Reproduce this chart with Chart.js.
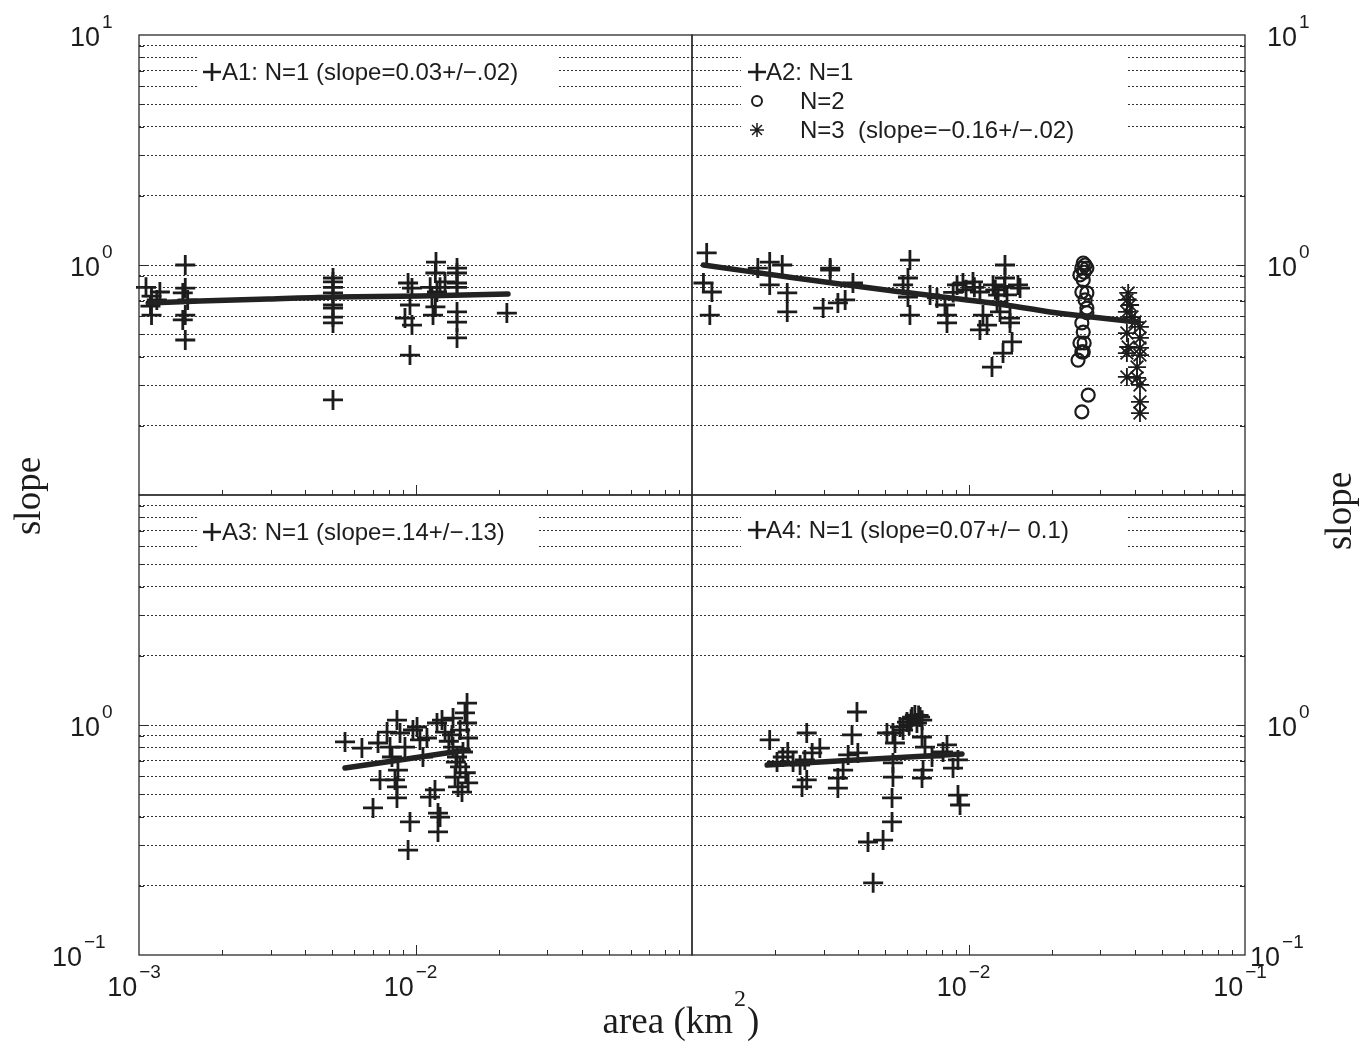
<!DOCTYPE html>
<html><head><meta charset="utf-8">
<script src="https://cdn.jsdelivr.net/npm/chart.js@4.4.1/dist/chart.umd.min.js"></script>
<style>
html,body{margin:0;padding:0;background:#fff;width:1359px;height:1043px;overflow:hidden}
canvas{position:absolute;left:0;top:0}
</style></head><body>
<canvas id="c1" width="1359" height="1043"></canvas>
<canvas id="c2" width="1359" height="1043"></canvas>
<canvas id="c3" width="1359" height="1043"></canvas>
<canvas id="c4" width="1359" height="1043"></canvas>
<script>
// ---------------- DATA ----------------
const A1_area  = [0.00106,0.00111,0.00116,0.0011,0.00111,0.00119, 0.00147,0.00147,0.00144,0.0015,0.00147,0.00144,0.00147, 0.00503,0.00503,0.00503,0.00503,0.00503,0.00503,0.00503,0.00503,0.00503, 0.0094,0.00971,0.00955,0.00916,0.00971,0.00955, 0.01186,0.0118,0.0113,0.01227,0.01196,0.01147,0.0118,0.01157,0.01279, 0.01413,0.01413,0.01413,0.01413,0.01413,0.01413,0.01413, 0.0214];
const A1_slope = [0.80,0.733,0.705,0.663,0.606,0.763, 1.0,0.794,0.756,0.705,0.606,0.577,0.472, 0.878,0.844,0.80,0.756,0.67,0.65,0.594,0.56,0.259, 0.835,0.794,0.67,0.588,0.548,0.406, 1.03,0.923,0.80,0.80,0.763,0.733,0.657,0.606,0.844, 0.97,0.923,0.835,0.80,0.625,0.565,0.482, 0.618];
const A1_fit_area  = [0.00108,0.00166,0.00293,0.00512,0.01038,0.0216];
const A1_fit_slope = [0.684,0.697,0.711,0.726,0.733,0.748];

const A2_n1_area  = [0.00113,0.0011,0.00118,0.00116, 0.00173,0.00191,0.00212,0.00191,0.00221,0.00221, 0.00316,0.00316,0.00298,0.00337,0.00358,0.00382, 0.00614,0.00604,0.0058,0.00604,0.00614, 0.00726,0.00769,0.00822,0.00836,0.00836,0.00909,0.00955,0.01038,0.011,0.01128,0.01167,0.011,0.01227,0.01268,0.013,0.01355,0.01355,0.01378,0.01413,0.01413,0.01437,0.01333,0.01216,0.0151,0.01536, 0.0088,0.0098,0.0105,0.0125,0.0135,0.0128];
const A2_n1_slope = [1.128,0.835,0.763,0.606, 0.97,1.03,1.0,0.819,0.756,0.625, 0.97,0.95,0.65,0.684,0.705,0.835, 1.051,0.878,0.819,0.726,0.606, 0.741,0.719,0.67,0.606,0.56,0.819,0.835,0.844,0.763,0.606,0.548,0.522,0.819,0.69,0.625,1.0,0.878,0.741,0.588,0.56,0.463,0.414,0.36,0.819,0.794, 0.76,0.78,0.8,0.78,0.8,0.74];
const A2_n2_area  = [0.026,0.0257,0.0264,0.0268,0.0253,0.026,0.0257,0.0268,0.0264,0.0268,0.0257,0.026,0.0253,0.0257,0.026,0.0249,0.0271,0.0257,0.0262,0.0268,0.0262];
const A2_n2_slope = [1.02,0.97,1.0,0.97,0.905,0.861,0.763,0.756,0.705,0.65,0.56,0.511,0.458,0.419,0.419,0.386,0.272,0.23,0.93,0.62,0.458];
const A2_n3_area  = [0.0378,0.0374,0.0384,0.0374,0.039,0.04,0.0417,0.0374,0.0417,0.0378,0.0417,0.0374,0.0417,0.0407,0.0374,0.0407,0.0417,0.0417,0.0417];
const A2_n3_slope = [0.756,0.705,0.67,0.625,0.594,0.565,0.538,0.506,0.482,0.44,0.436,0.414,0.406,0.36,0.326,0.323,0.301,0.254,0.227];
const A2_fit_area  = [0.0011,0.00226,0.0052,0.01196,0.0197,0.0259,0.0407];
const A2_fit_slope = [1.0,0.885,0.775,0.685,0.625,0.600,0.565];

const A3_area  = [0.00556,0.0064,0.00702,0.00744,0.00732,0.00789,0.00809,0.00822,0.00857,0.00879,0.00864,0.00843,0.00857,0.00857,0.00955,0.0094,0.00916,0.00979,0.01013,0.01038,0.01064,0.011,0.01128,0.01176,0.01206,0.01227,0.01206,0.01196,0.01247,0.01279,0.01355,0.01367,0.01413,0.01449,0.0139,0.01425,0.01473,0.01367,0.01536,0.0151,0.01536,0.01549,0.01485,0.0132,0.0145,0.014,0.0152,0.0155];
const A3_slope = [0.844,0.794,0.436,0.577,0.835,0.932,0.802,0.726,1.051,0.923,0.637,0.577,0.538,0.482,0.379,0.286,0.802,0.951,0.98,0.861,0.726,0.878,0.486,0.522,0.414,0.398,0.343,1.02,1.051,0.932,0.905,0.802,0.726,0.657,0.594,0.538,0.511,1.072,1.246,1.128,1.02,0.878,0.763,0.85,0.95,0.69,0.62,0.56];
const A3_fit_area  = [0.00556,0.0155];
const A3_fit_slope = [0.65,0.78];

const A4_area  = [0.00191,0.00203,0.00213,0.00222,0.00232,0.00246,0.0026,0.00256,0.00272,0.0029,0.0025,0.0026,0.00337,0.00337,0.00352,0.00367,0.00398,0.00379,0.00395,0.00533,0.00542,0.00533,0.00533,0.00529,0.00529,0.00491,0.00433,0.00452,0.00565,0.00599,0.00625,0.0064,0.00668,0.00651,0.00679,0.00696,0.00685,0.00679,0.00738,0.00809,0.00836,0.00879,0.00916,0.00916,0.00932,0.00507,0.0062,0.0066,0.0068,0.0061,0.0058];
const A4_slope = [0.861,0.69,0.726,0.763,0.69,0.67,0.923,0.705,0.756,0.794,0.538,0.577,0.588,0.532,0.637,0.741,0.756,0.905,1.139,0.923,0.835,0.684,0.594,0.482,0.379,0.316,0.31,0.206,0.98,1.03,1.083,1.105,1.083,1.02,0.887,0.802,0.637,0.588,0.726,0.763,0.819,0.65,0.705,0.496,0.449,0.923,1.06,1.1,1.05,1.0,0.95];
const A4_fit_area  = [0.00187,0.00947];
const A4_fit_slope = [0.67,0.748];

const gridSlopes     = [0.2,0.3,0.4,0.5,0.6,0.7,0.8,0.9,1,2,3,4,5,6,7,8,9];
const majorSlopeTicks = [1];
const minorAreaTicks = [0.002,0.003,0.004,0.005,0.006,0.007,0.008,0.009,0.02,0.03,0.04,0.05,0.06,0.07,0.08,0.09];
const majorAreaTicks = [0.01];

const legend_A1 = ['A1: N=1 (slope=0.03+/\u2212.02)'];
const legend_A2 = ['A2: N=1', 'N=2', 'N=3  (slope=\u22120.16+/\u2212.02)'];
const legend_A3 = ['A3: N=1 (slope=.14+/\u2212.13)'];
const legend_A4 = ['A4: N=1 (slope=0.07+/\u2212 0.1)'];

// ---------------- DRAWING ----------------
const W = 1359, H = 1043;
const INK = '#1c1c1c';
const SANS = '"Liberation Sans", Arial, Helvetica, sans-serif';
const SERIF = '"Liberation Serif", "Times New Roman", serif';
const zip = (a, b) => a.map((v, i) => ({x: v, y: b[i]}));

function crossSet(a, s) {
  return {data: zip(a, s), pointStyle: 'cross', pointRadius: 10, pointBorderWidth: 2.8,
          borderColor: INK, backgroundColor: INK, showLine: false, clip: false};
}
function circleSet(a, s) {
  return {data: zip(a, s), pointStyle: 'circle', pointRadius: 6.5, pointBorderWidth: 2.2,
          borderColor: INK, backgroundColor: 'rgba(0,0,0,0)', showLine: false, clip: false};
}
function starSet(a, s) {
  return {data: zip(a, s), pointStyle: 'star', pointRadius: 9, pointBorderWidth: 1.8,
          borderColor: INK, backgroundColor: INK, showLine: false, clip: false};
}
function fitSet(a, s) {
  return {data: zip(a, s), showLine: true, pointRadius: 0, borderWidth: 5.5, borderColor: '#222',
          tension: 0.3, borderCapStyle: 'round', clip: false};
}

function drawPow(ctx, exp, x, y, mode) {
  const base = '27px ' + SANS, sup = '19px ' + SANS;
  ctx.font = base; const w10 = ctx.measureText('10').width;
  ctx.font = sup; const we = ctx.measureText(exp).width;
  let x10;
  if (mode === 'right') x10 = x - w10;
  else if (mode === 'left') x10 = x;
  else x10 = x - (w10 + 2 + we) / 2;
  ctx.fillStyle = INK; ctx.textAlign = 'left'; ctx.textBaseline = 'alphabetic';
  ctx.font = base; ctx.fillText('10', x10, y);
  ctx.font = sup; ctx.fillText(exp, x10 + w10 + 2, y - 18);
}

function drawMarker(ctx, type, x, y) {
  ctx.save(); ctx.strokeStyle = INK; ctx.beginPath();
  if (type === 'cross') {
    ctx.lineWidth = 2.6; const r = 9;
    ctx.moveTo(x - r, y); ctx.lineTo(x + r, y); ctx.moveTo(x, y - r); ctx.lineTo(x, y + r);
  } else if (type === 'circle') {
    ctx.lineWidth = 2; ctx.arc(x, y, 5, 0, Math.PI * 2);
  } else {
    ctx.lineWidth = 1.5; const r = 7;
    for (let k = 0; k < 4; k++) {
      const a = k * Math.PI / 4;
      ctx.moveTo(x - r * Math.cos(a), y - r * Math.sin(a)); ctx.lineTo(x + r * Math.cos(a), y + r * Math.sin(a));
    }
  }
  ctx.stroke(); ctx.restore();
}

function panelPlugin(cfg) {
  return {
    id: 'panel' + cfg.name,
    beforeDatasetsDraw(chart) {
      const ctx = chart.ctx, b = cfg.legendBox;
      ctx.save(); ctx.fillStyle = '#fff'; ctx.fillRect(b[0], b[1], b[2] - b[0], b[3] - b[1]); ctx.restore();
    },
    afterDraw(chart) {
      const ctx = chart.ctx, ca = chart.chartArea;
      const xs = chart.scales.x, ys = chart.scales.y;
      ctx.save();
      ctx.strokeStyle = '#2a2a2a'; ctx.lineWidth = 1.3;
      ctx.strokeRect(ca.left, ca.top, ca.right - ca.left, ca.bottom - ca.top);
      ctx.lineWidth = 1;
      ctx.beginPath();
      minorAreaTicks.forEach(v => { const px = Math.round(xs.getPixelForValue(v)) + 0.5; ctx.moveTo(px, ca.bottom); ctx.lineTo(px, ca.bottom - 5); });
      majorAreaTicks.forEach(v => { const px = Math.round(xs.getPixelForValue(v)) + 0.5; ctx.moveTo(px, ca.bottom); ctx.lineTo(px, ca.bottom - 10); });
      const side = cfg.ySide === 'left' ? ca.left : ca.right, dir = cfg.ySide === 'left' ? 1 : -1;
      gridSlopes.forEach(v => {
        const py = Math.round(ys.getPixelForValue(v)) + 0.5;
        const len = majorSlopeTicks.includes(v) ? 9 : 5;
        ctx.moveTo(side, py); ctx.lineTo(side + dir * len, py);
      });
      ctx.stroke();
      cfg.yLabels.forEach(([v, exp]) => {
        const py = ys.getPixelForValue(v);
        if (cfg.ySide === 'left') drawPow(ctx, exp, exp.length > 1 ? 82 : 100, py + 11, 'right');
        else drawPow(ctx, exp, exp.length > 1 ? 1250 : 1267, py + 11, 'left');
      });
      cfg.xLabels.forEach(([v, exp]) => {
        const px = xs.getPixelForValue(v);
        drawPow(ctx, exp, px - 5, 996, 'center');
      });
      cfg.legend.forEach(it => {
        drawMarker(ctx, it.marker, it.mx, it.y);
        ctx.font = '24px ' + SANS; ctx.fillStyle = INK; ctx.textBaseline = 'middle'; ctx.textAlign = 'left';
        ctx.fillText(it.text, it.tx, it.y + 1);
      });
      ctx.restore();
      if (cfg.extra) cfg.extra(ctx);
    }
  };
}

function axisTitles(ctx) {
  ctx.save();
  ctx.fillStyle = INK;
  ctx.font = '37px ' + SERIF; ctx.textAlign = 'center'; ctx.textBaseline = 'middle';
  ctx.save(); ctx.translate(30, 496); ctx.rotate(-Math.PI / 2); ctx.fillText('slope', 0, 0); ctx.restore();
  ctx.save(); ctx.translate(1341, 511); ctx.rotate(-Math.PI / 2); ctx.fillText('slope', 0, 0); ctx.restore();
  ctx.textAlign = 'left'; ctx.textBaseline = 'alphabetic';
  const t1 = 'area (km', t2 = '2', t3 = ')';
  ctx.font = '37px ' + SERIF; const w1 = ctx.measureText(t1).width, w3 = ctx.measureText(t3).width;
  ctx.font = '24px ' + SERIF; const w2 = ctx.measureText(t2).width;
  let x = 681 - (w1 + w2 + w3 + 2) / 2;
  ctx.font = '37px ' + SERIF; ctx.fillText(t1, x, 1033); x += w1 + 1;
  ctx.font = '24px ' + SERIF; ctx.fillText(t2, x, 1006); x += w2 + 1;
  ctx.font = '37px ' + SERIF; ctx.fillText(t3, x, 1033);
  ctx.restore();
}

function makePanel(id, box, datasets, cfg) {
  return new Chart(document.getElementById(id), {
    type: 'scatter',
    data: {datasets},
    options: {
      responsive: false, animation: false, devicePixelRatio: 1, events: [],
      layout: {padding: {left: box[0], top: box[1], right: W - box[2], bottom: H - box[3]}},
      plugins: {legend: {display: false}, tooltip: {enabled: false}},
      scales: {
        x: {type: 'logarithmic', min: 0.001, max: 0.1, ticks: {display: false},
            grid: {display: false, drawTicks: false}, border: {display: false}},
        y: {type: 'logarithmic', min: 0.1, max: 10, ticks: {display: false},
            afterBuildTicks: s => { s.ticks = gridSlopes.map(v => ({value: v})); },
            grid: {drawTicks: false, color: '#333', lineWidth: 1, borderDash: [2, 2]},
            border: {display: false, dash: [2, 2]}}
      }
    },
    plugins: [panelPlugin(cfg)]
  });
}

makePanel('c1', [139, 35, 692, 495],
  [fitSet(A1_fit_area, A1_fit_slope), crossSet(A1_area, A1_slope)],
  {name: 'A1', ySide: 'left', yLabels: [[10, '1'], [1, '0']], xLabels: [],
   legendBox: [197, 50, 557, 95],
   legend: [{marker: 'cross', mx: 212, tx: 222, y: 72, text: legend_A1[0]}]});

makePanel('c2', [692, 35, 1245, 495],
  [fitSet(A2_fit_area, A2_fit_slope), crossSet(A2_n1_area, A2_n1_slope), circleSet(A2_n2_area, A2_n2_slope), starSet(A2_n3_area, A2_n3_slope)],
  {name: 'A2', ySide: 'right', yLabels: [[10, '1'], [1, '0']], xLabels: [],
   legendBox: [741, 50, 1128, 141],
   legend: [{marker: 'cross', mx: 757, tx: 766, y: 72, text: legend_A2[0]},
            {marker: 'circle', mx: 757, tx: 800, y: 101, text: legend_A2[1]},
            {marker: 'star', mx: 757, tx: 800, y: 130, text: legend_A2[2]}]});

makePanel('c3', [139, 495, 692, 955],
  [fitSet(A3_fit_area, A3_fit_slope), crossSet(A3_area, A3_slope)],
  {name: 'A3', ySide: 'left', yLabels: [[1, '0'], [0.1, '\u22121']], xLabels: [[0.001, '\u22123'], [0.01, '\u22122']],
   legendBox: [197, 511, 537, 556],
   legend: [{marker: 'cross', mx: 212, tx: 222, y: 532, text: legend_A3[0]}]});

makePanel('c4', [692, 495, 1245, 955],
  [fitSet(A4_fit_area, A4_fit_slope), crossSet(A4_area, A4_slope)],
  {name: 'A4', ySide: 'right', yLabels: [[1, '0'], [0.1, '\u22121']], xLabels: [[0.01, '\u22122'], [0.1, '\u22121']],
   legendBox: [741, 511, 1128, 556],
   legend: [{marker: 'cross', mx: 757, tx: 766, y: 530, text: legend_A4[0]}],
   extra: axisTitles});
</script>
</body></html>
